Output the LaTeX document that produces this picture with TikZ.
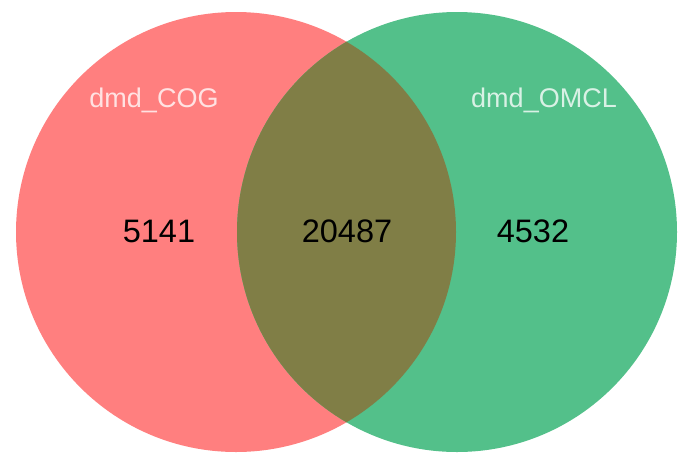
\documentclass[tikz,border=0pt]{standalone}
\usepackage{fontspec}
\setmainfont{Liberation Sans}
\definecolor{setA}{HTML}{FF7F7F}
\definecolor{setB}{HTML}{53C08A}
\definecolor{setAB}{HTML}{807E46}
\begin{document}
\begin{tikzpicture}[x=1pt,y=-1pt,
  setlabel/.style={anchor=base,text=white,text opacity=0.78,inner sep=0pt,font=\fontsize{27}{32}\selectfont},
  count/.style={anchor=base,text=black,inner sep=0pt,font=\fontsize{32.5}{38}\selectfont}]
\useasboundingbox (0,0) rectangle (687,469);
\coordinate (cA) at (236,232);
\coordinate (cB) at (457,232);
\fill[setA] (cA) circle[radius=220];
\fill[setB] (cB) circle[radius=220];
\begin{scope}
  \clip (cA) circle[radius=220];
  \fill[setAB] (cB) circle[radius=220];
\end{scope}
\node[setlabel] (lA) at (154,107) {dmd\_COG};
\node[setlabel] (lB) at (544,107) {dmd\_OMCL};
\node[count] (nA) at (159,242) {5141};
\node[count] (nAB) at (347,242) {20487};
\node[count] (nB) at (533,242) {4532};
\end{tikzpicture}
\end{document}
